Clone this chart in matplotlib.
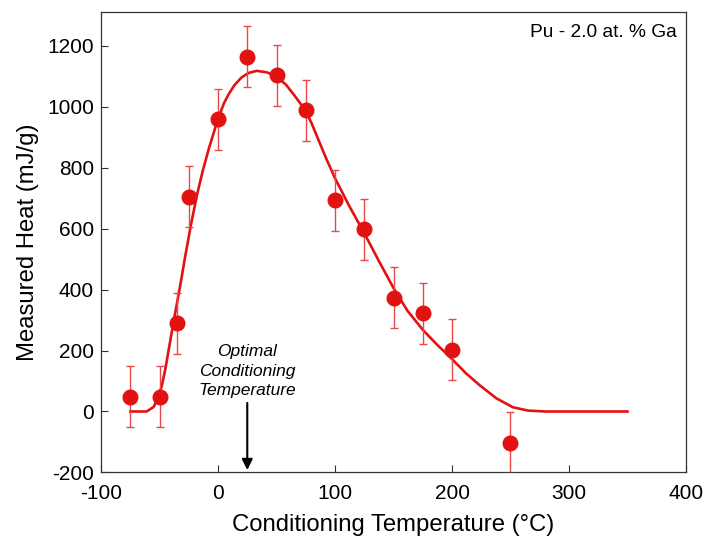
import matplotlib.pyplot as plt

plt.rcParams['font.family'] = ['Liberation Sans', 'DejaVu Sans']
plt.rcParams['axes.unicode_minus'] = False

##### Data ######
temps = [-75, -50, -35, -25, 0, 25, 50, 75, 100, 125, 150, 175, 200, 250]
heat = [48, 48, 290, 705, 958, 1163, 1103, 988, 692, 598, 373, 322, 203, -102]
heat_err = [100] * len(temps)

# fitted curve
fit_x = [-75, -61, -55, -51, -48, -45, -40, -37, -32, -28, -23, -18, -13, -8, 0, 5, 9,
         14, 20, 26, 33, 42, 50, 58, 65, 70, 75, 80, 87, 93, 100, 112, 125, 137, 150,
         162, 175, 187, 200, 212, 224, 238, 252, 265, 280, 300, 350]
fit_y = [0, 0, 15, 48, 85, 140, 250, 315, 420, 510, 615, 710, 790, 860, 960, 1010,
         1040, 1070, 1095, 1110, 1117, 1112, 1098, 1072, 1038, 1012, 985, 945, 880, 825,
         765, 675, 585, 497, 405, 330, 268, 220, 172, 125, 85, 43, 14, 3, 0, 0, 0]

red = '#e31212'

fig = plt.figure(figsize=(7.08, 5.36), dpi=100)
ax = fig.add_axes([0.1427, 0.1185, 0.8262, 0.8591])

ax.plot(fit_x, fit_y, color=red, lw=1.9, zorder=2)
ax.errorbar(temps, heat, yerr=heat_err, fmt='none', ecolor='#e84848', elinewidth=1.0,
            capsize=3, capthick=1.0, zorder=3)
ax.plot(temps, heat, 'o', color=red, ms=10.5, mec=red, zorder=4)

ax.set_xlim(-100, 400)
ax.set_ylim(-200, 1310)
ax.set_xticks([-100, 0, 100, 200, 300, 400])
ax.set_yticks(range(-200, 1201, 200))
ax.tick_params(direction='in', length=5, width=0.8, labelsize=15, color='#333333')
ax.tick_params(axis='x', pad=8)
ax.tick_params(axis='y', pad=5)
for s in ax.spines.values():
    s.set_linewidth(0.9)
    s.set_color('#333333')

ax.set_xlabel('Conditioning Temperature (°C)', fontsize=17.2, labelpad=8)
ax.set_ylabel('Measured Heat (mJ/g)', fontsize=17.2, labelpad=6)

ax.text(0.985, 0.975, 'Pu - 2.0 at. % Ga', transform=ax.transAxes, ha='right',
        va='top', fontsize=13.8)

# optimal conditioning temperature marker
ax.text(25, 132, 'Optimal\nConditioning\nTemperature', ha='center', va='center',
        fontsize=12.5, style='italic', linespacing=1.37)
ax.annotate('', xy=(25, -192), xytext=(25, 28),
            arrowprops=dict(arrowstyle='-|>', color='black', lw=1.5,
                            mutation_scale=16, shrinkA=0, shrinkB=0))

fig.savefig('out.png', dpi=100)
